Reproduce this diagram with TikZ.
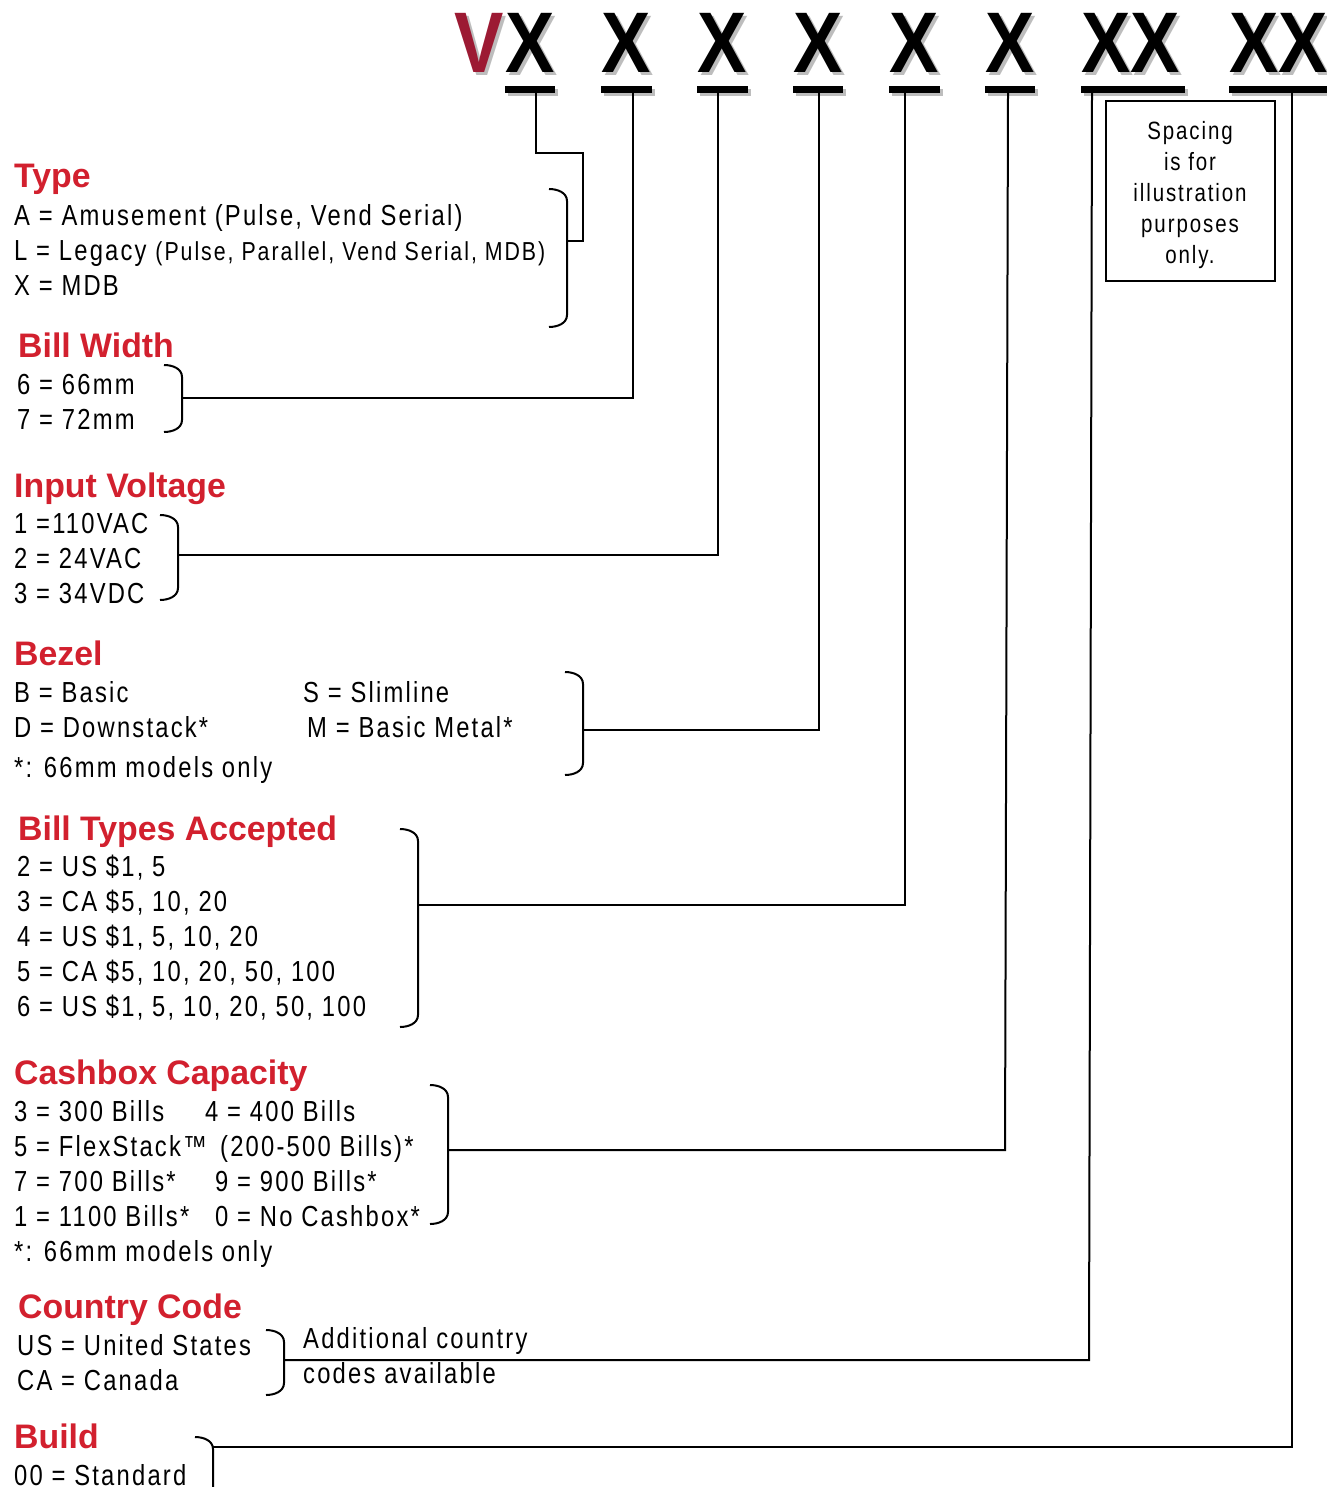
\documentclass[tikz,border=0pt]{standalone}
\usepackage{fontspec}
\setmainfont{Liberation Sans}
\newfontfamily\bodyf[FakeStretch=0.82,LetterSpace=7.6]{Liberation Sans}
\newfontfamily\headf[FakeStretch=0.995,UprightFont={* Bold}]{Liberation Sans}
\newfontfamily\bigf[FakeStretch=0.86,UprightFont={* Bold}]{Liberation Sans}
\definecolor{hred}{HTML}{D2202E}
\definecolor{vred}{HTML}{9C1A33}
\definecolor{shade}{HTML}{BDBDBD}
\begin{document}
\begin{tikzpicture}[x=1pt,y=-1pt,
  body/.style={anchor=base west,inner sep=0pt,font=\bodyf\fontsize{29}{35}\selectfont},
  head/.style={anchor=base west,inner sep=0pt,text=hred,font=\headf\fontsize{34}{40}\selectfont},
  big/.style={anchor=base west,inner sep=0pt,font=\bigf\fontsize{86}{90}\selectfont},
  bigsh/.style={big,text=shade},
  bar/.style={fill=black},
  barsh/.style={fill=shade},
  conn/.style={line width=2pt},
  brk/.style={line width=2pt},
  note/.style={anchor=base,inner sep=0pt,font=\bodyf\fontsize{25}{30}\selectfont}]
\useasboundingbox (0,0) rectangle (1326,1487);
% top code letters (grey drop shadows first)
\foreach \x/\t in {454/V,505/X,601/X,697/X,793/X,889/X,985/X,1081/XX,1229/XX}{
  \node[bigsh] at (\x+3,76) {\t};
}
\node[big,text=vred] (lv) at (454,73) {V};
\foreach \x/\t/\n in {505/X/1,601/X/2,697/X/3,793/X/4,889/X/5,985/X/6,1081/XX/7,1229/XX/8}{
  \node[big] (l\n) at (\x,73) {\t};
}
% bars
\foreach \a/\b in {505/555,601/652,697/748,793/843,889/940,985/1035,1081/1185,1229/1330}{
  \fill[barsh] (\a+3,89) rectangle (\b+3,96);
  \fill[bar] (\a,86) rectangle (\b,93);
}
\foreach \x/\n in {536/1,633/2,718/3,819/4,905/5,1008/6,1092/7,1292/8}{
  \coordinate (t\n) at (\x,93);
}
% note box
\draw[line width=2.5pt] (1106,101) rectangle (1275,281);
\node[note] (n1) at (1190,140) {Spacing};
\node[note] (n2) at (1190,171) {is for};
\node[note] (n3) at (1190,202) {illustration};
\node[note] (n4) at (1190,233) {purposes};
\node[note] (n5) at (1190,264) {only.};
% brackets: x, top, bottom
\newcommand\brkt[3]{\draw[brk] (#1-18,#2) to[out=0,in=90] (#1,#2+12) -- (#1,#3-12) to[out=-90,in=0] (#1-18,#3);}
\brkt{567}{189}{327}
\brkt{182}{365}{432}
\brkt{178}{515}{600}
\brkt{583}{672}{775}
\brkt{418}{829}{1027}
\brkt{448}{1085}{1224}
\brkt{284}{1330}{1395}
\draw[brk] (195,1437) to[out=0,in=90] (213,1449) -- (213,1490);
\coordinate (k1) at (567,241);
\coordinate (k2) at (182,398);
\coordinate (k3) at (178,555);
\coordinate (k4) at (583,730);
\coordinate (k5) at (418,905);
\coordinate (k6) at (448,1150);
\coordinate (k7) at (284,1360);
\coordinate (k8) at (213,1447);
% connectors
\draw[conn] (t1) -- ++(0,60) -- ++(47,0) |- (k1);
\draw[conn] (t2) |- (k2);
\draw[conn] (t3) |- (k3);
\draw[conn] (t4) |- (k4);
\draw[conn] (t5) |- (k5);
\draw[conn] (t6) -- (1005,1150) -- (k6);
\draw[conn] (t7) -- (1089,1360) -- (k7);
\draw[conn] (t8) |- (k8);
% Type
\node[head] (h1) at (14,188) {Type};
\node[body] (a1) at (14,226) {A = Amusement (Pulse, Vend Serial)};
\node[body] (a2) at (14,261) {L = Legacy \fontsize{26}{30}\selectfont(Pulse, Parallel, Vend Serial, MDB)};
\node[body] (a3) at (14,296) {X = MDB};
% Bill width
\node[head] (h2) at (18,357) {Bill Width};
\node[body] (b1) at (17,394) {6 = 66mm};
\node[body] (b2) at (17,429) {7 = 72mm};
% Input voltage
\node[head] (h3) at (14,497) {Input Voltage};
\node[body] (c1) at (14,533) {1 =110VAC};
\node[body] (c2) at (14,568) {2 = 24VAC};
\node[body] (c3) at (14,603) {3 = 34VDC};
% Bezel
\node[head] (h4) at (14,665) {Bezel};
\node[body] (d1) at (14,702) {B = Basic};
\node[body] (d2) at (303,702) {S = Slimline};
\node[body] (d3) at (14,737) {D = Downstack*};
\node[body] (d4) at (307,737) {M = Basic Metal*};
\node[body] (d5) at (14,777) {*: 66mm models only};
% Bill types
\node[head] (h5) at (18,840) {Bill Types Accepted};
\node[body] (e1) at (17,876) {2 = US \$1, 5};
\node[body] (e2) at (17,911) {3 = CA \$5, 10, 20};
\node[body] (e3) at (17,946) {4 = US \$1, 5, 10, 20};
\node[body] (e4) at (17,981) {5 = CA \$5, 10, 20, 50, 100};
\node[body] (e5) at (17,1016) {6 = US \$1, 5, 10, 20, 50, 100};
% Cashbox
\node[head] (h6) at (14,1084) {Cashbox Capacity};
\node[body] (f1) at (14,1121) {3 = 300 Bills};
\node[body] (f2) at (205,1121) {4 = 400 Bills};
\node[body] (f3) at (14,1156) {5 = FlexStack™};
\node[body] (f4) at (220,1156) {(200-500 Bills)*};
\node[body] (f5) at (14,1191) {7 = 700 Bills*};
\node[body] (f6) at (215,1191) {9 = 900 Bills*};
\node[body] (f7) at (14,1226) {1 = 1100 Bills*};
\node[body] (f8) at (215,1226) {0 = No Cashbox*};
\node[body] (f9) at (14,1261) {*: 66mm models only};
% Country
\node[head] (h7) at (18,1318) {Country Code};
\node[body] (g1) at (17,1355) {US = United States};
\node[body] (g2) at (17,1390) {CA = Canada};
\node[body] (g3) at (303,1348) {Additional country};
\node[body] (g4) at (303,1383) {codes available};
% Build
\node[head] (h8) at (14,1448) {Build};
\node[body] (i1) at (14,1485) {00 = Standard};
\end{tikzpicture}
\end{document}
